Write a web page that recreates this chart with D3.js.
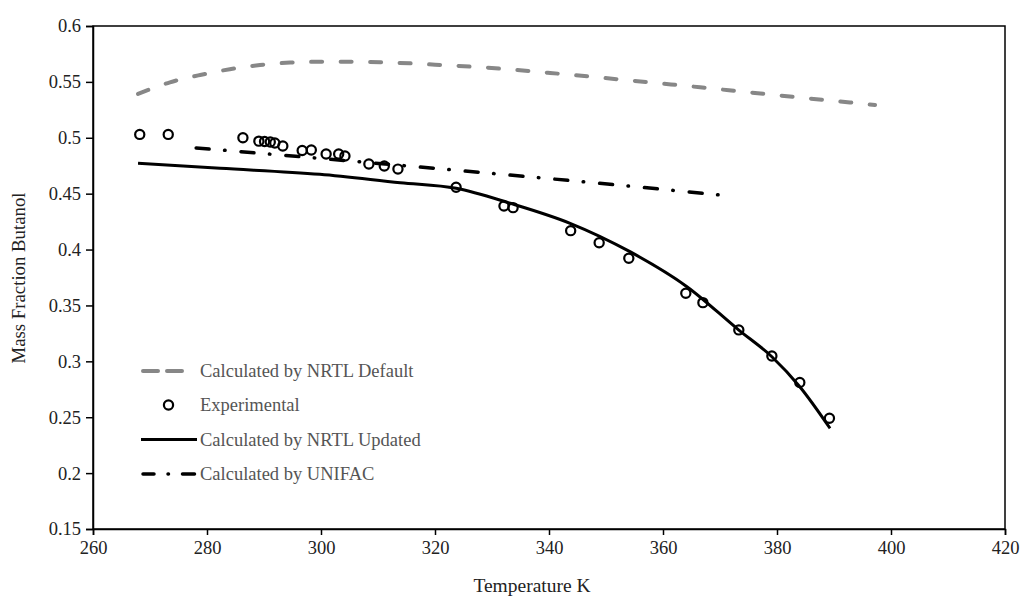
<!DOCTYPE html>
<html>
<head>
<meta charset="utf-8">
<script src="https://cdn.jsdelivr.net/npm/d3@7/dist/d3.min.js"></script>
<style>
  html, body { margin: 0; padding: 0; background: #fff; }
  svg { display: block; }
  text { font-family: "Liberation Serif", "Times New Roman", serif; }
</style>
</head>
<body>
<svg id="chart" width="1031" height="597"></svg>
<script>
// ---- data ----
const xTicks = [260, 280, 300, 320, 340, 360, 380, 400, 420];
const yTicks = [0.15, 0.2, 0.25, 0.3, 0.35, 0.4, 0.45, 0.5, 0.55, 0.6];

const expT = [268.2, 273.2, 286.3, 289.1, 290.1, 291.1, 291.9, 293.3, 296.7, 298.3, 300.9, 303.1, 304.2, 308.4, 311.1, 313.5,
              323.7, 332.1, 333.7, 343.8, 348.8, 354.0, 364.0, 367.0, 373.3, 379.1, 384.0, 389.2];
const expW = [0.503, 0.503, 0.500, 0.497, 0.4967, 0.4962, 0.4953, 0.4927, 0.4886, 0.4891, 0.4855, 0.4855, 0.4837, 0.4765, 0.4747, 0.4720,
              0.4557, 0.439, 0.4375, 0.4169, 0.4061, 0.3922, 0.3609, 0.3525, 0.3281, 0.3048, 0.2810, 0.2491];

const defT = [267.9, 273.5, 278.8, 284.0, 289.3, 294.6, 299.8, 305.1, 310.4, 315.6, 320.9, 326.1, 331.4, 340.2, 348.9, 357.7, 366.5, 375.3, 384.0, 392.8, 397.2];
const defW = [0.5392, 0.5496, 0.5562, 0.5613, 0.5651, 0.5673, 0.5680, 0.5681, 0.5676, 0.5666, 0.5652, 0.5637, 0.5619, 0.5580, 0.5539, 0.5495, 0.5452, 0.5405, 0.5360, 0.5316, 0.5293];

const updT = [267.9, 282.3, 299.8, 313.9, 323.7, 333.2, 343.7, 354.2, 364.2, 373.3, 379.1, 384.0, 389.3];
const updW = [0.4772, 0.4727, 0.4673, 0.4598, 0.4548, 0.4414, 0.4235, 0.3981, 0.3668, 0.3280, 0.3041, 0.2773, 0.2401];

const uniT = [278.1, 300.0, 323.2, 350.7, 371.2];
const uniW = [0.4909, 0.4815, 0.4712, 0.4584, 0.4482];

const legendLabels = ["Calculated by NRTL Default", "Experimental", "Calculated by NRTL Updated", "Calculated by UNIFAC"];

// ---- chart ----
const svg = d3.select("#chart");
const x = d3.scaleLinear().domain([260, 420]).range([93, 1005]);
const y = d3.scaleLinear().domain([0.15, 0.6]).range([529, 26]);

const fmt = d => String(+d.toFixed(2));

// frame
svg.append("rect")
  .attr("x", x(260)).attr("y", y(0.6))
  .attr("width", x(420) - x(260)).attr("height", y(0.15) - y(0.6))
  .attr("fill", "none").attr("stroke", "#000").attr("stroke-width", 1.5);

const xAxis = svg.append("g")
  .attr("transform", `translate(0,${y(0.15)})`)
  .call(d3.axisBottom(x).tickValues(xTicks).tickFormat(d => d).tickSize(6).tickPadding(6));
const yAxis = svg.append("g")
  .attr("transform", `translate(${x(260)},0)`)
  .call(d3.axisLeft(y).tickValues(yTicks).tickFormat(fmt).tickSize(7).tickPadding(5));

[xAxis, yAxis].forEach(g => {
  g.select(".domain").attr("stroke", "#000").attr("stroke-width", 1.5);
  g.selectAll(".tick line").attr("stroke", "#000").attr("stroke-width", 1.5);
  g.selectAll(".tick text").attr("fill", "#222").style("font-size", "18.5px")
    .style("font-family", '"Liberation Serif", "Times New Roman", serif');
});

// axis titles
svg.append("text")
  .attr("x", 532).attr("y", 592)
  .attr("text-anchor", "middle")
  .style("font-size", "19.5px").attr("fill", "#222")
  .text("Temperature K");
svg.append("text")
  .attr("transform", `translate(25,278) rotate(-90)`)
  .attr("text-anchor", "middle")
  .style("font-size", "18.8px").attr("fill", "#222")
  .text("Mass Fraction Butanol");

const line = d3.line().x(d => x(d[0])).y(d => y(d[1])).curve(d3.curveMonotoneX);

const defStyle = { stroke: "#878787", width: 4, dash: "11,18.5", cap: "round" };
const updStyle = { stroke: "#000", width: 3, dash: null, cap: "butt" };
const uniStyle = { stroke: "#000", width: 3.5, dash: "13,15.5,0.5,16", cap: "round" };

function drawLine(T, W, s) {
  svg.append("path")
    .datum(T.map((t, i) => [t, W[i]]))
    .attr("d", line)
    .attr("fill", "none")
    .attr("stroke", s.stroke)
    .attr("stroke-width", s.width)
    .attr("stroke-linecap", s.cap)
    .attr("stroke-dasharray", s.dash);
}

drawLine(defT, defW, defStyle);
drawLine(uniT, uniW, uniStyle);
drawLine(updT, updW, updStyle);

svg.append("g").selectAll("circle")
  .data(expT.map((t, i) => [t, expW[i]]))
  .join("circle")
  .attr("cx", d => x(d[0])).attr("cy", d => y(d[1]))
  .attr("r", 4.6)
  .attr("fill", "none").attr("stroke", "#000").attr("stroke-width", 2.2);

// legend
const lg = svg.append("g");
const ly = [371, 405, 439.5, 474];
lg.append("path").attr("d", `M143,${ly[0]}H186`)
  .attr("stroke", defStyle.stroke).attr("stroke-width", 4).attr("stroke-linecap", "round")
  .attr("stroke-dasharray", "15,9").attr("fill", "none");
lg.append("circle").attr("cx", 168.5).attr("cy", ly[1]).attr("r", 4.6)
  .attr("fill", "none").attr("stroke", "#000").attr("stroke-width", 2.2);
lg.append("path").attr("d", `M141,${ly[2]}H197`)
  .attr("stroke", "#000").attr("stroke-width", 3).attr("fill", "none");
lg.append("path").attr("d", `M143,${ly[3]}H197`)
  .attr("stroke", "#000").attr("stroke-width", 3.5).attr("stroke-linecap", "round")
  .attr("stroke-dasharray", "11,14,0.5,14,12").attr("fill", "none");

lg.selectAll("text").data(legendLabels).join("text")
  .attr("x", 200).attr("y", (d, i) => ly[i] + 6)
  .style("font-size", "18.5px").attr("fill", "#555")
  .text(d => d);
</script>
</body>
</html>
